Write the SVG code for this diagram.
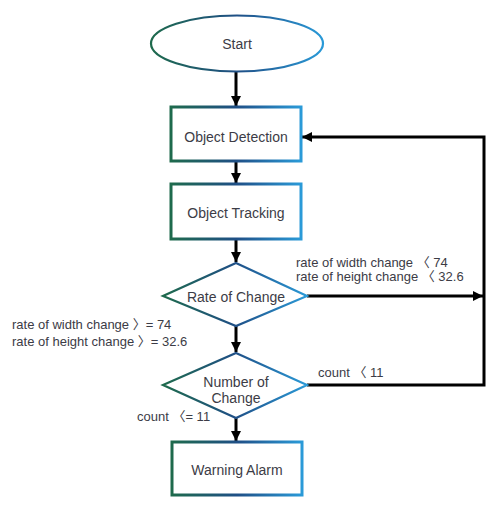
<svg xmlns="http://www.w3.org/2000/svg" width="500" height="511" viewBox="0 0 500 511">
<defs>
<linearGradient id="g" x1="0" y1="0" x2="1" y2="0">
<stop offset="0" stop-color="#1e6a4c"/>
<stop offset="0.5" stop-color="#1f4f86"/>
<stop offset="1" stop-color="#2a9ad8"/>
</linearGradient>
<marker id="ah" viewBox="0 0 10 10" refX="10" refY="5" markerWidth="3.4" markerHeight="3.4" orient="auto" markerUnits="strokeWidth">
<path d="M0,0 L10,5 L0,10 Z" fill="#000"/>
</marker>
</defs>
<style>
.box{fill:#fff;stroke:url(#g);stroke-width:3}
.thin{stroke-width:2.2}
.lbl{font-family:"Liberation Sans","Noto Sans CJK KR",sans-serif;font-size:14px;fill:#3c3c46;text-anchor:middle}
.cond{font-family:"Liberation Sans","Noto Sans CJK KR",sans-serif;font-size:13px;fill:#3c3c46}
.ln{fill:none;stroke:#000;stroke-width:3}
</style>
<rect width="500" height="511" fill="#fff"/>
<g id="connectors">
<path class="ln" d="M236,72 L236,106" marker-end="url(#ah)"/>
<path class="ln" d="M236,161 L236,183" marker-end="url(#ah)"/>
<path class="ln" d="M236,240 L236,262" marker-end="url(#ah)"/>
<path class="ln" d="M236,326 L236,352" marker-end="url(#ah)"/>
<path class="ln" d="M236,418 L236,441" marker-end="url(#ah)"/>
<path class="ln" d="M307,296 L483,296" marker-end="url(#ah)"/>
<path class="ln" d="M307,385 L484,385 L484,137 L302,137" marker-end="url(#ah)"/>
</g>
<g id="start">
<ellipse class="box thin" cx="237" cy="43.5" rx="86" ry="28"/>
<text class="lbl" x="237" y="49">Start</text>
</g>
<g id="object-detection">
<rect class="box" x="171" y="107" width="130" height="54"/>
<text class="lbl" x="236" y="142">Object Detection</text>
</g>
<g id="object-tracking">
<rect class="box" x="171" y="184" width="130" height="55"/>
<text class="lbl" x="236" y="218">Object Tracking</text>
</g>
<g id="rate-of-change">
<polygon class="box thin" points="236,263 307,296 236,326 163,296"/>
<text class="lbl" x="236" y="302">Rate of Change</text>
</g>
<g id="number-of-change">
<polygon class="box thin" points="236,353 307,385 236,418 163,385"/>
<text class="lbl" x="236" y="387">Number of</text>
<text class="lbl" x="236" y="403">Change</text>
</g>
<g id="warning-alarm">
<rect class="box" x="172" y="442" width="130" height="53"/>
<text class="lbl" x="237" y="475">Warning Alarm</text>
</g>
<g id="labels">
<text class="cond" x="296" y="267">rate of width change 〈 74</text>
<text class="cond" x="296" y="281">rate of height change 〈 32.6</text>
<text class="cond" x="12" y="329">rate of width change 〉= 74</text>
<text class="cond" x="12" y="346">rate of height change 〉= 32.6</text>
<text class="cond" x="318" y="377">count 〈 11</text>
<text class="cond" x="137" y="421">count 〈= 11</text>
</g>
</svg>
